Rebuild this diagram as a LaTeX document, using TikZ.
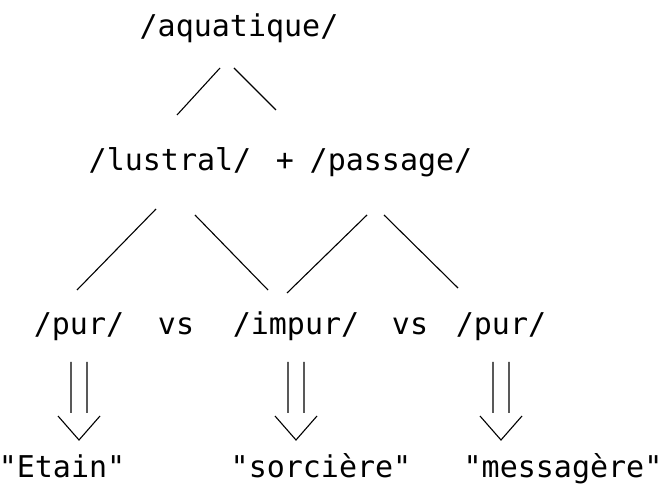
\documentclass[tikz,border=0pt]{standalone}
\usepackage{fontspec}
\newfontfamily\diafont{DejaVu Sans Mono}
\usetikzlibrary{positioning, calc}

\tikzset{
  word/.style={anchor=base, inner sep=0pt, font=\diafont\fontsize{30}{36}\selectfont},
  branch/.style={line width=1.1pt},
  implies/.style={line width=1.1pt, to path={let \p1=(\tikztostart), \p2=(\tikztotarget) in
      (\x1-8,\y1-27) -- (\x1-8,\y2+64) (\x1+8,\y1-27) -- (\x1+8,\y2+64)
      (\x1-21,\y2+61) -- (\x1,\y2+37) -- (\x1+21,\y2+61)}}
}

\begin{document}
\begin{tikzpicture}[x=1pt, y=1pt]
        \useasboundingbox (0,0) rectangle (666,487);

        % top row
        \node[word] (aq) at (239,450) {/aquatique/};

        % middle row
        \node[word] (lus) at (170,316) {/lustral/};
        \node[word] (plus) at (285,316) {+};
        \node[word] (pas) at (391,316) {/passage/};

        % third row
        \node[word] (pur1) at (79,152) {/pur/};
        \node[word] (vs1) at (176,152) {vs};
        \node[word] (impur) at (296,152) {/impur/};
        \node[word] (vs2) at (410,152) {vs};
        \node[word] (pur2) at (501,152) {/pur/};

        % bottom row
        \node[word] (etain) at (62,10) {"Etain"};
        \node[word] (sorc) at (321,10) {"sorcière"};
        \node[word] (mess) at (563,10) {"messagère"};

        % branches
        \draw[branch] ([shift={(-19,-31)}]aq.base) -- ([shift={(7,56)}]lus.base);
        \draw[branch] ([shift={(-5,-31)}]aq.base) -- ([shift={(-115,61)}]pas.base);
        \draw[branch] ([shift={(-14,-38)}]lus.base) -- ([shift={(-2,45)}]pur1.base);
        \draw[branch] ([shift={(25,-44)}]lus.base) -- ([shift={(-28,45)}]impur.base);
        \draw[branch] ([shift={(-24,-44)}]pas.base) -- ([shift={(-9,42)}]impur.base);
        \draw[branch] ([shift={(-7,-44)}]pas.base) -- ([shift={(-43,47)}]pur2.base);

        % double arrows
        \draw[implies] (pur1.base) to (etain.base);
        \draw[implies] (impur.base) to (sorc.base);
        \draw[implies] (pur2.base) to (mess.base);
\end{tikzpicture}
\end{document}
